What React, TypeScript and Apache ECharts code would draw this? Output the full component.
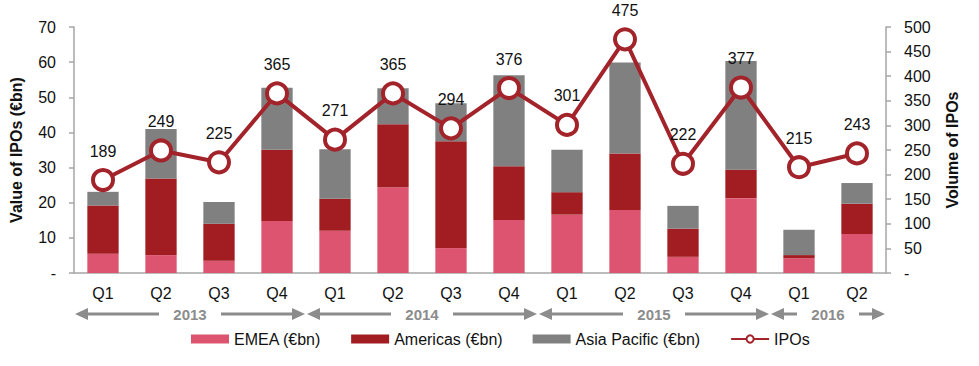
import React, { useEffect, useRef } from "react";
import * as echarts from "echarts";

const quarters = ["Q1", "Q2", "Q3", "Q4", "Q1", "Q2", "Q3", "Q4", "Q1", "Q2", "Q3", "Q4", "Q1", "Q2"];
const emea = [5.5, 5.1, 3.5, 14.8, 12.0, 24.4, 7.1, 15.1, 16.6, 17.9, 4.6, 21.3, 4.2, 11.1];
const americas = [13.7, 21.8, 10.5, 20.3, 9.1, 17.9, 30.4, 15.3, 6.4, 16.1, 8.0, 8.1, 0.9, 8.6];
const asiaPacific = [3.9, 14.1, 6.2, 17.6, 14.1, 10.3, 10.8, 25.9, 12.1, 25.9, 6.5, 30.9, 7.2, 5.9];
const ipos = [189, 249, 225, 365, 271, 365, 294, 376, 301, 475, 222, 377, 215, 243];
const years = ["2013", "2014", "2015", "2016"];
const yearStart = [0, 4, 8, 12];
const yearEnd = [3, 7, 11, 13];

const FONT = "'Liberation Sans', Arial, sans-serif";
const PINK = "#dc546f";
const RED = "#a11d21";
const GRAY = "#808080";
const LINE = "#a3232a";
const AXIS = "#a6a6a6";
const ARROW = "#8c8c8c";

export default function App() {
  const ref = useRef<HTMLDivElement>(null);
  useEffect(() => {
    if (!ref.current) return;
    const chart = echarts.init(ref.current, undefined, { renderer: "svg" });
    const zeroDash = (v: number) => (v === 0 ? "-" : String(v));
    chart.setOption({
      animation: false,
      textStyle: { fontFamily: FONT },
      grid: { left: 73, right: 93, top: 27, bottom: 93 },
      legend: {
        left: 186,
        top: 326,
        itemWidth: 38,
        itemHeight: 9,
        itemGap: 30,
        textStyle: { fontSize: 16, color: "#111", fontFamily: FONT },
        data: [
          { name: "EMEA (€bn)", icon: "rect" },
          { name: "Americas (€bn)", icon: "rect" },
          { name: "Asia Pacific (€bn)", icon: "rect" },
          { name: "IPOs" },
        ],
      },
      xAxis: {
        type: "category",
        data: quarters,
        axisLine: { lineStyle: { color: AXIS, width: 1.5 } },
        axisTick: { length: 5, lineStyle: { color: AXIS, width: 1.5 } },
        axisLabel: { fontSize: 16, color: "#111", margin: 12, fontFamily: FONT },
      },
      yAxis: [
        {
          type: "value",
          min: 0,
          max: 70,
          interval: 10,
          name: "Value of IPOs (€bn)",
          nameLocation: "middle",
          nameGap: 50,
          nameTextStyle: { fontSize: 16, fontWeight: "bold", color: "#111", fontFamily: FONT },
          axisLine: { show: true, lineStyle: { color: AXIS, width: 1.5 } },
          axisTick: { show: true, length: 5, lineStyle: { color: AXIS, width: 1.5 } },
          splitLine: { show: false },
          axisLabel: { fontSize: 16, color: "#111", margin: 18, formatter: zeroDash, fontFamily: FONT },
        },
        {
          type: "value",
          min: 0,
          max: 500,
          interval: 50,
          name: "Volume of IPOs",
          nameLocation: "middle",
          nameGap: 58,
          nameTextStyle: { fontSize: 16, fontWeight: "bold", color: "#111", fontFamily: FONT },
          axisLine: { show: true, lineStyle: { color: AXIS, width: 1.5 } },
          axisTick: { show: true, length: 5, lineStyle: { color: AXIS, width: 1.5 } },
          splitLine: { show: false },
          axisLabel: { fontSize: 16, color: "#111", margin: 18, formatter: zeroDash, fontFamily: FONT },
        },
      ],
      series: [
        {
          name: "EMEA (€bn)",
          type: "bar",
          stack: "v",
          barWidth: "54%",
          itemStyle: { color: PINK },
          data: emea,
        },
        {
          name: "Americas (€bn)",
          type: "bar",
          stack: "v",
          barWidth: "54%",
          itemStyle: { color: RED },
          data: americas,
        },
        {
          name: "Asia Pacific (€bn)",
          type: "bar",
          stack: "v",
          barWidth: "54%",
          itemStyle: { color: GRAY },
          data: asiaPacific,
        },
        {
          name: "IPOs",
          type: "line",
          yAxisIndex: 1,
          symbol: "circle",
          symbolSize: 20,
          lineStyle: { color: LINE, width: 4 },
          itemStyle: { color: "#fff", borderColor: LINE, borderWidth: 4 },
          label: {
            show: true,
            position: "top",
            distance: 9,
            fontSize: 16,
            color: "#111",
            fontFamily: FONT,
          },
          z: 5,
          data: ipos,
        },
        {
          name: "years",
          type: "custom",
          silent: true,
          clip: false,
          encode: { x: [0, 1] },
          data: years.map((_, i) => [yearStart[i], yearEnd[i]]),
          renderItem: (params: any, api: any) => {
            const s = api.value(0);
            const e = api.value(1);
            const bw = api.size([1, 0])[0];
            const p0 = api.coord([s, 0]);
            const p1 = api.coord([e, 0]);
            const x0 = p0[0] - bw / 2 + 1;
            const x1 = p1[0] + bw / 2 - 1;
            const y = p0[1] + 41;
            const cx = (x0 + x1) / 2;
            const gap = 31;
            const head = 13;
            const hh = 6;
            const stroke = { stroke: ARROW, lineWidth: 3 };
            return {
              type: "group",
              children: [
                { type: "line", shape: { x1: x0 + head - 1, y1: y, x2: cx - gap, y2: y }, style: stroke },
                { type: "line", shape: { x1: cx + gap, y1: y, x2: x1 - head + 1, y2: y }, style: stroke },
                {
                  type: "polygon",
                  shape: { points: [[x0, y], [x0 + head, y - hh], [x0 + head, y + hh]] },
                  style: { fill: ARROW },
                },
                {
                  type: "polygon",
                  shape: { points: [[x1, y], [x1 - head, y - hh], [x1 - head, y + hh]] },
                  style: { fill: ARROW },
                },
                {
                  type: "text",
                  x: cx,
                  y: y,
                  style: {
                    text: years[params.dataIndex],
                    fill: ARROW,
                    font: `bold 15px ${FONT}`,
                    align: "center",
                    verticalAlign: "middle",
                  },
                },
              ],
            };
          },
        },
      ],
    });
    return () => chart.dispose();
  }, []);
  return (
    <div
      ref={ref}
      style={{ position: "fixed", left: 0, top: 0, width: 979, height: 366, background: "#fff" }}
    />
  );
}
